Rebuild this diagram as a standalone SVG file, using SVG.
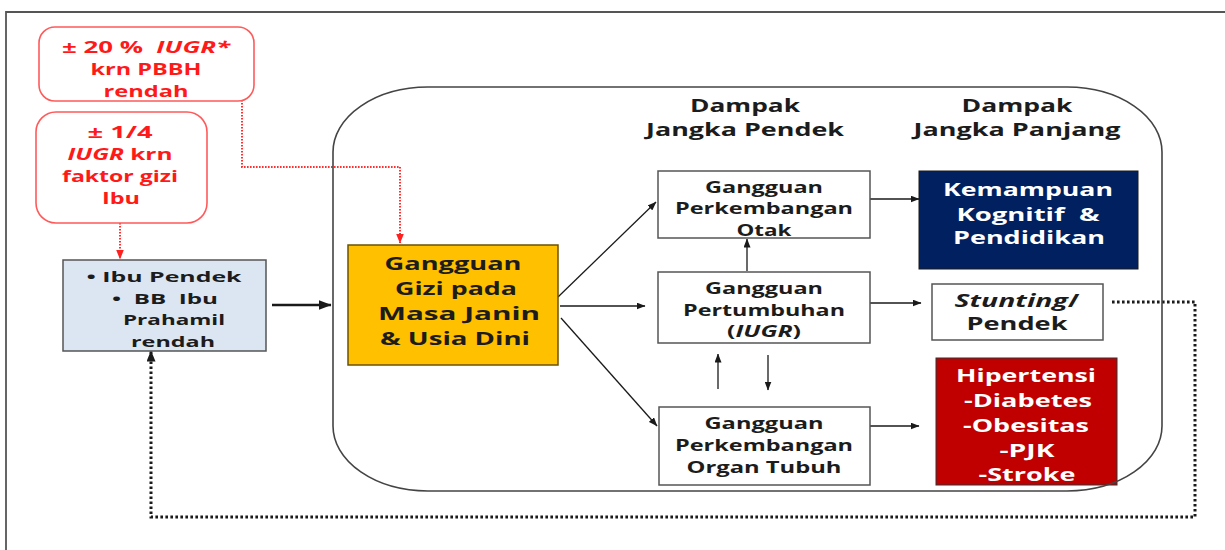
<svg xmlns="http://www.w3.org/2000/svg" width="1225" height="550" viewBox="0 0 1225 550">
  <defs>
    <style>
      .t { font-family: "Open Sans", "Liberation Sans", sans-serif; font-weight: 700; text-anchor: middle; fill: #1c1c1c; white-space: pre; }
      .s15 { font-size: 15px; }
      .s16 { font-size: 16px; }
      .s17 { font-size: 17px; }
      .s18 { font-size: 18px; }
      .red { fill: #ff1a1a; }
      .wht { fill: #ffffff; }
      .it { font-style: italic; }
      .box { fill: #ffffff; stroke: #555555; stroke-width: 1.5; }
      .note { fill: #ffffff; stroke: #ff5a5a; stroke-width: 1.6; }
      .link { fill: none; stroke: #1a1a1a; stroke-width: 1.3; }
      .redlink { fill: none; stroke: #ff3030; stroke-width: 2; stroke-dasharray: 1.6 1.4; }
      .loop { fill: none; stroke: #1a1a1a; stroke-width: 3; stroke-dasharray: 2.6 2.4; }
    </style>
    <marker id="ah" markerWidth="9" markerHeight="7" refX="8.5" refY="3.5" orient="auto" markerUnits="userSpaceOnUse">
      <path d="M0,0 L9,3.5 L0,7 Z" fill="#1a1a1a"/>
    </marker>
    <marker id="ahBig" markerWidth="13" markerHeight="10" refX="12.5" refY="5" orient="auto" markerUnits="userSpaceOnUse">
      <path d="M0,0 L13,5 L0,10 Z" fill="#1a1a1a"/>
    </marker>
    <marker id="ahRed" markerWidth="10" markerHeight="8" refX="9.5" refY="4" orient="auto" markerUnits="userSpaceOnUse">
      <path d="M0,0 L10,4 L0,8 Z" fill="#ff2020"/>
    </marker>
    <marker id="ahLoop" markerWidth="11" markerHeight="9" refX="10.5" refY="4.5" orient="auto" markerUnits="userSpaceOnUse">
      <path d="M0,0 L11,4.5 L0,9 Z" fill="#1a1a1a"/>
    </marker>
  </defs>

  <rect x="0" y="0" width="1225" height="550" fill="#ffffff"/>

  <!-- page frame -->
  <g id="frame">
    <path d="M6,550 V12 H1225" fill="none" stroke="#555555" stroke-width="1.8"/>
  </g>

  <!-- connectors -->
  <g id="connectors">
    <path class="redlink" d="M120,223 V259" marker-end="url(#ahRed)"/>
    <path class="redlink" d="M242,94 V167 H400 V243" marker-end="url(#ahRed)"/>
    <path d="M272,305 H331" fill="none" stroke="#1a1a1a" stroke-width="2.6" marker-end="url(#ahBig)"/>
    <path class="link" d="M558,297 L656,202" marker-end="url(#ah)"/>
    <path class="link" d="M560,306 H645" marker-end="url(#ah)"/>
    <path class="link" d="M561,318 L657,426" marker-end="url(#ah)"/>
    <path class="link" d="M860,199 H919" marker-end="url(#ah)"/>
    <path class="link" d="M747,271 V239" marker-end="url(#ah)"/>
    <path class="link" d="M858,303 H921" marker-end="url(#ah)"/>
    <path class="link" d="M718,389 V354" marker-end="url(#ah)"/>
    <path class="link" d="M768,355 V390" marker-end="url(#ah)"/>
    <path class="link" d="M860,426 H919" marker-end="url(#ah)"/>
    <path class="loop" d="M1112,302 H1195 V517 H151 V351" marker-end="url(#ahLoop)"/>
  </g>

  <!-- red notes -->
  <g id="note-pbbh">
    <rect class="note" x="39" y="27" width="215" height="74" rx="16"/>
    <text class="t s16 red" x="146" y="53" textLength="168" lengthAdjust="spacingAndGlyphs">± 20 %  <tspan class="it">IUGR*</tspan></text>
    <text class="t s16 red" x="146" y="75" textLength="111" lengthAdjust="spacingAndGlyphs">krn PBBH</text>
    <text class="t s16 red" x="146" y="97" textLength="85" lengthAdjust="spacingAndGlyphs">rendah</text>
  </g>
  <g id="note-gizi-ibu">
    <rect class="note" x="36" y="112" width="171" height="111" rx="20"/>
    <text class="t s16 red" x="120" y="138" textLength="65" lengthAdjust="spacingAndGlyphs">± 1/4</text>
    <text class="t s16 red" x="120" y="160" textLength="105" lengthAdjust="spacingAndGlyphs"><tspan class="it">IUGR</tspan> krn</text>
    <text class="t s16 red" x="120" y="182" textLength="116" lengthAdjust="spacingAndGlyphs">faktor gizi</text>
    <text class="t s16 red" x="121" y="204" textLength="38" lengthAdjust="spacingAndGlyphs">Ibu</text>
  </g>

  <!-- maternal condition -->
  <g id="ibu">
    <rect x="63" y="260" width="203" height="91" fill="#dce6f2" stroke="#555555" stroke-width="1.5"/>
    <text class="t s15" x="164" y="282" textLength="155" lengthAdjust="spacingAndGlyphs">• Ibu Pendek</text>
    <text class="t s15" x="165" y="304" textLength="106" lengthAdjust="spacingAndGlyphs">•  BB  Ibu</text>
    <text class="t s15" x="174" y="325" textLength="102" lengthAdjust="spacingAndGlyphs">Prahamil</text>
    <text class="t s15" x="173" y="347" textLength="84" lengthAdjust="spacingAndGlyphs">rendah</text>
  </g>

  <!-- central cause -->
  <g id="gangguan-gizi">
    <rect x="348" y="245" width="210" height="120" fill="#ffc000" stroke="#6b5200" stroke-width="1.5"/>
    <text class="t s18" x="453" y="270" textLength="137" lengthAdjust="spacingAndGlyphs">Gangguan</text>
    <text class="t s18" x="456" y="295" textLength="122" lengthAdjust="spacingAndGlyphs">Gizi pada</text>
    <text class="t s18" x="459" y="320" textLength="162" lengthAdjust="spacingAndGlyphs">Masa Janin</text>
    <text class="t s18" x="455" y="345" textLength="150" lengthAdjust="spacingAndGlyphs">&amp; Usia Dini</text>
  </g>

  <!-- column headers -->
  <g id="header-pendek">
    <text class="t s17" x="745" y="112" textLength="110" lengthAdjust="spacingAndGlyphs">Dampak</text>
    <text class="t s17" x="745" y="136" textLength="198" lengthAdjust="spacingAndGlyphs">Jangka Pendek</text>
  </g>
  <g id="header-panjang">
    <text class="t s17" x="1017" y="112" textLength="111" lengthAdjust="spacingAndGlyphs">Dampak</text>
    <text class="t s17" x="1017" y="136" textLength="207" lengthAdjust="spacingAndGlyphs">Jangka Panjang</text>
  </g>

  <!-- short-term effects -->
  <g id="otak">
    <rect class="box" x="658" y="171" width="212" height="67"/>
    <text class="t s16" x="764" y="193" textLength="118" lengthAdjust="spacingAndGlyphs">Gangguan</text>
    <text class="t s16" x="764" y="214" textLength="178" lengthAdjust="spacingAndGlyphs">Perkembangan</text>
    <text class="t s16" x="764" y="236" textLength="55" lengthAdjust="spacingAndGlyphs">Otak</text>
  </g>
  <g id="pertumbuhan">
    <rect class="box" x="658" y="272" width="212" height="71"/>
    <text class="t s16" x="764" y="294" textLength="118" lengthAdjust="spacingAndGlyphs">Gangguan</text>
    <text class="t s16" x="764" y="316" textLength="162" lengthAdjust="spacingAndGlyphs">Pertumbuhan</text>
    <text class="t s16" x="764" y="337" textLength="74" lengthAdjust="spacingAndGlyphs">(<tspan class="it">IUGR</tspan>)</text>
  </g>
  <g id="organ">
    <rect class="box" x="659" y="407" width="211" height="78"/>
    <text class="t s16" x="764" y="429" textLength="119" lengthAdjust="spacingAndGlyphs">Gangguan</text>
    <text class="t s16" x="764" y="451" textLength="178" lengthAdjust="spacingAndGlyphs">Perkembangan</text>
    <text class="t s16" x="764" y="473" textLength="155" lengthAdjust="spacingAndGlyphs">Organ Tubuh</text>
  </g>

  <!-- long-term effects -->
  <g id="kognitif">
    <rect x="919" y="171" width="219" height="98" fill="#002060" stroke="#1a1a1a" stroke-width="1"/>
    <text class="t s18 wht" x="1028" y="196" textLength="170" lengthAdjust="spacingAndGlyphs">Kemampuan</text>
    <text class="t s18 wht" x="1028" y="221" textLength="143" lengthAdjust="spacingAndGlyphs">Kognitif  &amp;</text>
    <text class="t s18 wht" x="1029" y="244" textLength="152" lengthAdjust="spacingAndGlyphs">Pendidikan</text>
  </g>
  <g id="stunting">
    <rect class="box" x="932" y="284" width="171" height="56"/>
    <text class="t s17" x="1017" y="307" textLength="125" lengthAdjust="spacingAndGlyphs"><tspan class="it">Stunting</tspan>/</text>
    <text class="t s17" x="1017" y="330" textLength="101" lengthAdjust="spacingAndGlyphs">Pendek</text>
  </g>
  <g id="penyakit">
    <rect x="936" y="358" width="181" height="127" fill="#c00000" stroke="#333333" stroke-width="1"/>
    <text class="t s18 wht" x="1026" y="382" textLength="140" lengthAdjust="spacingAndGlyphs">Hipertensi</text>
    <text class="t s18 wht" x="1028" y="407" textLength="128" lengthAdjust="spacingAndGlyphs">-Diabetes</text>
    <text class="t s18 wht" x="1026" y="432" textLength="126" lengthAdjust="spacingAndGlyphs">-Obesitas</text>
    <text class="t s18 wht" x="1027" y="457" textLength="55" lengthAdjust="spacingAndGlyphs">-PJK</text>
    <text class="t s18 wht" x="1027" y="481" textLength="97" lengthAdjust="spacingAndGlyphs">-Stroke</text>
  </g>

  <!-- outline grouping the effects -->
  <g id="dampak-area">
    <path d="M428,87 H1067 A95,65 0 0 1 1162,152 V426 A95,65 0 0 1 1067,491 H428 A95,65 0 0 1 333,426 V152 A95,65 0 0 1 428,87 Z" fill="none" stroke="#444444" stroke-width="1.6"/>
  </g>
</svg>
